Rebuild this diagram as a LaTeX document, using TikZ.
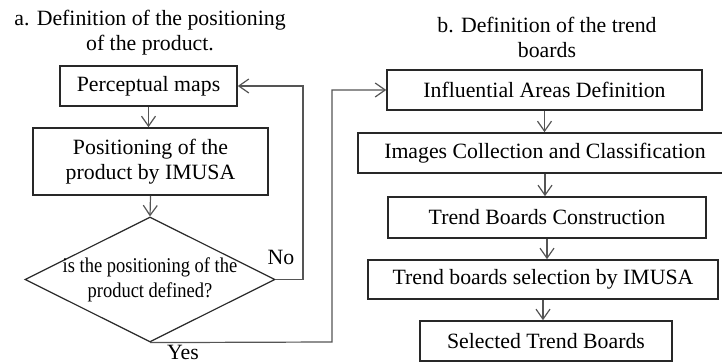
\documentclass[tikz,border=0pt]{standalone}
\usepackage{fontspec}
\setmainfont{Liberation Serif}
\newfontfamily\narrowserif{Liberation Serif}[FakeStretch=0.88]
\usepackage{tikz}
\usetikzlibrary{arrows.meta,calc,positioning,shapes.geometric}
\definecolor{flowline}{RGB}{85,85,85}
\definecolor{boxline}{RGB}{40,40,40}

\begin{document}
\begin{tikzpicture}[
  x=0.5pt, y=-0.5pt,
  font=\fontsize{10.9pt}{12.5pt}\selectfont,
  step box/.style={draw=boxline, line width=0.8pt, minimum height=20pt, inner sep=2pt, align=center},
  decision/.style={diamond, draw=boxline, line width=0.6pt, minimum width=125pt, minimum height=62.5pt, inner sep=0pt},
  heading/.style={align=center},
  arr/.style={-{Straight Barb[length=5pt, width=7pt]}, draw=flowline, line width=0.6pt}
]
\useasboundingbox (0,0) rectangle (722,362);
% a. positioning of the product
\node[heading] (titleA) at (150,33) {a. Definition of the positioning\\of the product.};
\node[step box, minimum width=88.5pt] (maps) at (148.5,86) {Perceptual maps};
\node[step box, minimum width=117.5pt, minimum height=33.5pt] (posn) at (150.5,161.5) {Positioning of the\\product by IMUSA};
\node[decision] (query) at (150,279.5) {};
\node[align=center, font=\narrowserif\fontsize{10.5pt}{12.5pt}\selectfont] (querytext) at (query.center) {is the positioning of the\\product defined?};
\node (no) at (281,257) {No};
\node (yes) at (183,352) {Yes};
\coordinate (nobend) at (303,279.5);
\coordinate (yesbend) at (332,342);
\draw[arr] (maps.south) -- (maps.south |- posn.north);
\draw[arr] (posn.south) -- (query.north);
\draw[arr] (query.east) -- (nobend) |- (maps.east);
% b. trend boards
\node[heading] (titleB) at (547,37) {b. Definition of the trend\\boards};
\node[step box, minimum width=157.5pt] (areas) at (544.5,90) {Influential Areas Definition};
\node[step box, minimum width=187pt] (images) at (545,153) {Images Collection and Classification};
\node[step box, minimum width=159pt, minimum height=20.5pt] (construct) at (547,217.5) {Trend Boards Construction};
\node[step box, minimum width=175pt, minimum height=19.5pt] (select) at (543,279.5) {Trend boards selection by IMUSA};
\node[step box, minimum width=126pt] (chosen) at (546,341) {Selected Trend Boards};
\draw[arr] (query.south) -- (yesbend) |- (areas.west);
\draw[arr] (areas.south) -- (areas.south |- images.north);
\draw[arr] (images.south) -- (images.south |- construct.north);
\draw[arr] (construct.south) -- (construct.south |- select.north);
\draw[arr] (select.south) -- (select.south |- chosen.north);
\end{tikzpicture}
\end{document}
